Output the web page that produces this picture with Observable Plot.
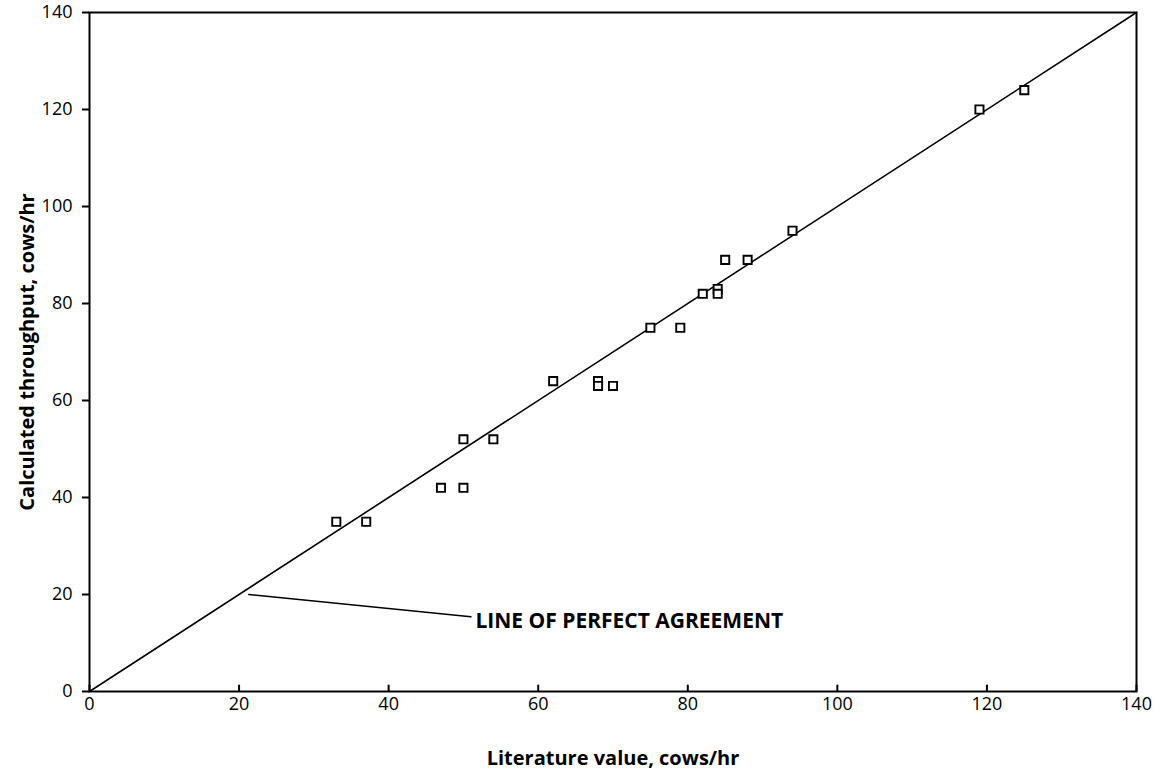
<!DOCTYPE html>
<html>
<head>
<meta charset="utf-8">
<script src="https://cdn.jsdelivr.net/npm/d3@7"></script>
<script src="https://cdn.jsdelivr.net/npm/@observablehq/plot@0.6"></script>
<style>
  html, body { margin: 0; padding: 0; background: #fff; }
  #chart svg { font-family: "Open Sans", Lato, sans-serif; display: block; }
</style>
</head>
<body>
<div id="chart"></div>
<script>
// Literature value (x) vs calculated throughput (y), cows/hr
const literature = [33, 37, 47, 50, 50, 54, 62, 68, 68, 70, 75, 79, 82, 84, 84, 85, 88, 94, 119, 125];
const calculated = [35, 35, 42, 42, 52, 52, 64, 64, 63, 63, 75, 75, 82, 83, 82, 89, 89, 95, 120, 124];

const xTicks = [0, 20, 40, 60, 80, 100, 120, 140];
const yTicks = [0, 20, 40, 60, 80, 100, 120, 140];

// line of perfect agreement
const agreementX = [0, 140];
const agreementY = [0, 140];

// annotation leader line and label
const leaderX = [21.3, 51];
const leaderY = [20, 15.4];
const annotationText = ["LINE OF PERFECT AGREEMENT"];
const annotationX = [51.6];
const annotationY = [14.4];

const xLabel = "Literature value, cows/hr";
const yLabel = "Calculated throughput, cows/hr";

const points = literature.map((v, i) => ({x: v, y: calculated[i]}));
const agreement = agreementX.map((v, i) => ({x: v, y: agreementY[i]}));
const leader = leaderX.map((v, i) => ({x: v, y: leaderY[i]}));
const annotation = annotationText.map((t, i) => ({t, x: annotationX[i], y: annotationY[i]}));

const chart = Plot.plot({
  width: 1161,
  height: 782,
  marginLeft: 89,
  marginRight: 25,
  marginTop: 12,
  marginBottom: 91,
  x: {domain: [0, 140]},
  y: {domain: [0, 140]},
  style: {fontFamily: "'Open Sans', Lato, sans-serif", color: "#000", background: "#fff"},
  marks: [
    Plot.line(agreement, {x: "x", y: "y", stroke: "#000", strokeWidth: 1.6}),
    Plot.line(leader, {x: "x", y: "y", stroke: "#000", strokeWidth: 1.6}),
    Plot.text(annotation, {x: "x", y: "y", text: "t", textAnchor: "start", fontWeight: "bold", fontSize: 21, fill: "#000"}),
    Plot.dot(points, {x: "x", y: "y", symbol: "square", r: 4.6, stroke: "#000", strokeWidth: 1.9, fill: "white"}),
    Plot.axisY({ticks: yTicks, tickSize: 7, tickPadding: 10, fontSize: 18, label: null, strokeWidth: 2, tickFormat: d => String(d)}),
    Plot.axisX({ticks: xTicks, tickSize: 0, tickPadding: 6, fontSize: 18, label: null, tickFormat: d => String(d)}),
    Plot.ruleX(xTicks, {x: d => d, y1: 0, y2: 1.3, stroke: "#000", strokeWidth: 2}),
    Plot.frame({stroke: "#000", strokeWidth: 2}),
    Plot.text([yLabel], {frameAnchor: "left", textAnchor: "middle", dx: -62, rotate: -90, fontWeight: "bold", fontSize: 20, fill: "#000"}),
    Plot.text([xLabel], {frameAnchor: "bottom", textAnchor: "middle", dy: 73, fontWeight: "bold", fontSize: 20, fill: "#000"})
  ]
});
document.getElementById("chart").appendChild(chart);
</script>
</body>
</html>
